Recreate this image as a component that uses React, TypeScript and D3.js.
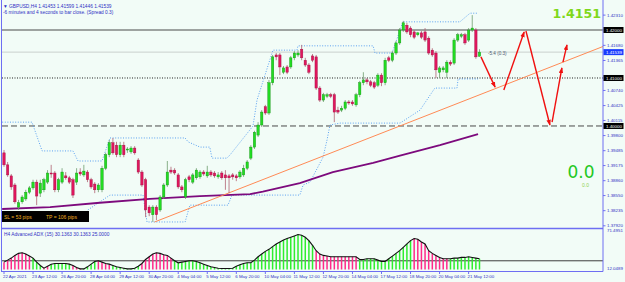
import * as d3 from 'd3';

// H4 GBPUSD candles, [open, high, low, close]
const candles: [number, number, number, number][] = [
  [1.3944, 1.395, 1.3915, 1.3919], [1.3919, 1.3925, 1.3894, 1.3898], [1.3896, 1.39, 1.3867, 1.3873],
  [1.3877, 1.3881, 1.3838, 1.3842], [1.3831, 1.3846, 1.3825, 1.384], [1.3842, 1.3856, 1.3838, 1.3852],
  [1.3848, 1.3867, 1.3844, 1.3862], [1.3862, 1.3875, 1.3858, 1.3871], [1.3871, 1.3888, 1.3867, 1.3883],
  [1.3883, 1.3888, 1.3835, 1.3854], [1.386, 1.3888, 1.3852, 1.3881], [1.3867, 1.3892, 1.3862, 1.3888],
  [1.3883, 1.3908, 1.3879, 1.3902], [1.3902, 1.3919, 1.3892, 1.39], [1.3902, 1.3906, 1.3862, 1.3867],
  [1.3867, 1.3892, 1.3862, 1.3888], [1.3883, 1.3912, 1.3879, 1.3904], [1.3896, 1.3904, 1.3888, 1.3892],
  [1.3892, 1.3896, 1.3879, 1.3883], [1.3888, 1.3892, 1.385, 1.3856], [1.3883, 1.3912, 1.3877, 1.3902],
  [1.3904, 1.3912, 1.3896, 1.39], [1.3898, 1.3919, 1.3894, 1.3906], [1.3904, 1.3908, 1.3883, 1.3888],
  [1.3888, 1.3892, 1.3869, 1.3873], [1.3879, 1.3883, 1.386, 1.3867], [1.3867, 1.3881, 1.3862, 1.3877],
  [1.3867, 1.3917, 1.3862, 1.3912], [1.3912, 1.3944, 1.3908, 1.394], [1.394, 1.3971, 1.3935, 1.3965],
  [1.3965, 1.3975, 1.394, 1.3944], [1.396, 1.3967, 1.3935, 1.394], [1.394, 1.3967, 1.3935, 1.396],
  [1.396, 1.3967, 1.3935, 1.394], [1.395, 1.3956, 1.3944, 1.3952], [1.3946, 1.3958, 1.3942, 1.3954],
  [1.3954, 1.3958, 1.394, 1.3944], [1.3929, 1.3933, 1.39, 1.3904], [1.3904, 1.3908, 1.3873, 1.3877],
  [1.3888, 1.3892, 1.381, 1.3825], [1.3831, 1.3835, 1.3812, 1.3819], [1.3815, 1.3835, 1.38, 1.3831],
  [1.3831, 1.3835, 1.3804, 1.3815], [1.3825, 1.3856, 1.3821, 1.3852], [1.3852, 1.3881, 1.3848, 1.3877],
  [1.3877, 1.3927, 1.3873, 1.3904], [1.3908, 1.3915, 1.39, 1.3904], [1.3908, 1.3912, 1.3898, 1.3902],
  [1.3898, 1.3902, 1.3869, 1.3873], [1.3873, 1.3877, 1.3862, 1.3867], [1.3852, 1.3892, 1.3848, 1.3888],
  [1.3894, 1.3898, 1.3883, 1.3888], [1.3883, 1.3902, 1.3879, 1.3898], [1.3892, 1.3912, 1.3888, 1.3908],
  [1.3894, 1.3908, 1.389, 1.3904], [1.3904, 1.3908, 1.3896, 1.39], [1.3896, 1.3917, 1.3892, 1.3904],
  [1.3904, 1.3908, 1.3894, 1.3898], [1.3902, 1.3906, 1.3892, 1.3896], [1.3894, 1.3904, 1.389, 1.3898],
  [1.3902, 1.3906, 1.3888, 1.3892], [1.3898, 1.3908, 1.3867, 1.3892], [1.3896, 1.39, 1.386, 1.3892],
  [1.3898, 1.3902, 1.3888, 1.3894], [1.3896, 1.39, 1.3885, 1.3892], [1.3894, 1.3908, 1.389, 1.3904],
  [1.3898, 1.3919, 1.3894, 1.3912], [1.3912, 1.3929, 1.3908, 1.3925], [1.3933, 1.396, 1.3929, 1.3956],
  [1.3956, 1.399, 1.3952, 1.3987], [1.3981, 1.4008, 1.3977, 1.4002], [1.4002, 1.4033, 1.3998, 1.4029],
  [1.404, 1.4044, 1.4023, 1.4027], [1.4027, 1.4096, 1.4023, 1.409], [1.409, 1.4148, 1.4085, 1.4144],
  [1.4148, 1.4152, 1.4137, 1.4144], [1.4148, 1.4152, 1.4106, 1.4123], [1.4112, 1.4125, 1.4108, 1.4121],
  [1.4123, 1.4127, 1.4108, 1.4112], [1.4123, 1.4146, 1.4119, 1.4142], [1.4142, 1.4156, 1.4137, 1.4152],
  [1.4148, 1.4158, 1.4144, 1.4152], [1.416, 1.4169, 1.4137, 1.4142], [1.4137, 1.4142, 1.4123, 1.4127],
  [1.4127, 1.4131, 1.4108, 1.4112], [1.4146, 1.415, 1.4133, 1.4137], [1.4144, 1.4148, 1.4075, 1.4079],
  [1.4079, 1.4083, 1.405, 1.4054], [1.4054, 1.4069, 1.405, 1.4065], [1.4062, 1.4069, 1.4058, 1.4065],
  [1.4065, 1.4069, 1.4058, 1.4062], [1.4065, 1.4069, 1.4008, 1.4029], [1.4033, 1.404, 1.4025, 1.4029],
  [1.4033, 1.4042, 1.4029, 1.4037], [1.4037, 1.4054, 1.4033, 1.405], [1.405, 1.4054, 1.4044, 1.4048],
  [1.405, 1.4054, 1.4042, 1.4046], [1.4044, 1.4069, 1.404, 1.4065], [1.4065, 1.4094, 1.406, 1.409],
  [1.409, 1.4112, 1.4085, 1.4096], [1.4096, 1.41, 1.4087, 1.4092], [1.4092, 1.4096, 1.4081, 1.4085],
  [1.409, 1.4094, 1.4077, 1.4081], [1.4085, 1.411, 1.4081, 1.4106], [1.4106, 1.411, 1.4083, 1.409],
  [1.409, 1.4142, 1.4085, 1.4137], [1.4142, 1.4146, 1.4133, 1.4137], [1.4137, 1.4156, 1.4133, 1.4152],
  [1.4152, 1.4177, 1.4148, 1.4173], [1.4173, 1.4204, 1.4169, 1.42], [1.42, 1.4219, 1.4196, 1.4215],
  [1.421, 1.4215, 1.4192, 1.4196], [1.4204, 1.4208, 1.4185, 1.419], [1.4196, 1.42, 1.4181, 1.4185],
  [1.419, 1.4196, 1.4187, 1.4194], [1.4194, 1.4198, 1.4181, 1.4185], [1.4196, 1.4204, 1.4175, 1.4179],
  [1.4183, 1.4187, 1.4148, 1.4152], [1.4158, 1.4162, 1.4144, 1.4148], [1.4152, 1.4156, 1.41, 1.4117],
  [1.4112, 1.4125, 1.41, 1.4121], [1.4117, 1.4125, 1.4112, 1.4121], [1.4112, 1.4137, 1.41, 1.4133],
  [1.4133, 1.4137, 1.4125, 1.4129], [1.4131, 1.4183, 1.4127, 1.4179], [1.4179, 1.4194, 1.4175, 1.419],
  [1.4187, 1.4194, 1.4183, 1.419], [1.419, 1.4194, 1.4169, 1.4173], [1.4179, 1.4204, 1.4175, 1.42],
  [1.42, 1.4231, 1.4196, 1.4204], [1.42, 1.4204, 1.414, 1.4144], [1.41453, 1.41599, 1.41446, 1.41539],
];

// channel bands and moving average, [bar, price]
const upperBand: [number, number][] = [
  [-0.5, 1.4008], [7.7, 1.4008], [10.5, 1.3948], [19, 1.3948], [20.4, 1.3927], [27, 1.3927],
  [29.2, 1.3975], [49.9, 1.3975], [50.7, 1.3967], [54, 1.3956], [56.7, 1.3956], [57.3, 1.3933],
  [61.4, 1.3933], [62.3, 1.394], [68.6, 1.4], [69.7, 1.4054], [74.1, 1.4158], [80.7, 1.4158],
  [81, 1.4167], [101.7, 1.4167], [102.2, 1.4152], [106.9, 1.4152], [109.9, 1.4217], [125.6, 1.4217],
  [128.4, 1.4235], [130.6, 1.4235],
];
const lowerBand: [number, number][] = [
  [23.1, 1.3825], [29.2, 1.3856], [38.3, 1.3856], [39.4, 1.38], [49.9, 1.38], [51.2, 1.3835],
  [61.7, 1.3835], [62.8, 1.3856], [81.5, 1.3856], [82.4, 1.3877], [84.3, 1.3883], [87.9, 1.3935],
  [89, 1.3971], [89.8, 1.4002], [92.6, 1.4006], [109.1, 1.4006], [114.6, 1.4033], [118.7, 1.4079],
  [124.8, 1.4079], [125.1, 1.4098], [130.6, 1.4098],
];
const movingAverage: [number, number][] = [
  [-0.5, 1.3827], [12.7, 1.3831], [26.4, 1.384], [40.2, 1.3848], [54, 1.3854], [67.8, 1.3858],
  [71.3, 1.3863], [81.5, 1.3881], [90.6, 1.3904], [101.7, 1.3923], [109.1, 1.3938], [120.1, 1.396],
  [130.6, 1.3983],
];
const trendAnchors: [number, number][] = [[41.5, 1.38], [129, 1.4059]];
const forecast: [number, number][][] = [
  [[131.4, 1.4144], [135.3, 1.4081]],
  [[137.7, 1.4075], [143.3, 1.4196]],
  [[143.8, 1.4198], [150.4, 1.4002]],
  [[151, 1.4008], [153.7, 1.4121]],
  [[154, 1.4133], [155.1, 1.4169]],
];

const levels = [1.42, 1.41, 1.4];
const bid = 1.41539;
const priceTicks = [
  '1.42310', '1.41995', '1.41680', '1.41365', '1.41050', '1.40740', '1.40425', '1.40115',
  '1.39800', '1.39485', '1.39175', '1.38860', '1.38550', '1.38235', '1.37920',
];

const timeLabels: [number, string][] = [
  [0, '22 Apr 2021'], [8, '23 Apr 12:00'], [16, '26 Apr 20:00'], [24, '28 Apr 04:00'],
  [32, '29 Apr 12:00'], [40, '30 Apr 20:00'], [48, '4 May 04:00'], [56, '5 May 12:00'],
  [64, '6 May 20:00'], [72, '10 May 04:00'], [80, '11 May 12:00'], [88, '12 May 20:00'],
  [96, '14 May 04:00'], [104, '17 May 12:00'], [112, '18 May 20:00'], [120, '20 May 04:00'],
  [128, '21 May 12:00'],
];

const adxValues = [
  23, 26, 29, 33, 36, 37, 35, 32, 29, 23,
  18, 14, 17, 20, 21, 21, 21, 21, 20, 18,
  15, 13, 13, 16, 20, 24, 25, 23, 21, 20,
  18, 16, 15, 14, 13, 13, 14, 17, 21, 27,
  31, 35, 37, 36, 34, 33, 29, 25, 22, 23,
  24, 25, 25, 24, 22, 20, 18, 16, 15, 14,
  13.5, 13.5, 13.5, 14, 17, 19, 21, 22, 22, 26,
  31, 35, 39, 42, 46, 50, 53, 56, 58, 60,
  62, 64, 63, 60, 55, 48, 40, 35, 33, 32,
  31, 31, 31, 31, 31, 31, 31, 31, 27, 27,
  28, 28, 28, 26, 24, 24, 28, 32, 36, 40,
  45, 50, 55, 58, 57, 53, 50, 40, 36, 33,
  30, 28, 28, 28, 29, 29, 30, 30, 31, 30,
  29, 28,
];
// g = rising (+DI side), p = falling
const adxSide = (
  'pppppppp ggg pp gggggg ppp gggg pppp gggggggg ppppppppp ' +
  'ggggggggggggggggggggggggggggggggggggggg pppppppppppp ggggggggggggggg pppppppppp ggggggggg'
).replace(/ /g, '');
const adxLevel = 25;

const header1 = '\u25BC GBPUSD,H4  1.41453 1.41599 1.41446 1.41539';
const header2 = '-6 minutes and 4 seconds to bar close. (Spread 0.3)';
const adxTitle = 'H4 Advanced ADX (15) 30.1363 30.1363 25.0000';

const font = '"Liberation Sans", Arial, sans-serif';
const textBlue = '#2f2fc4';
const frameBlue = '#6e6ef2';

export default function App() {
  const plotRight = 603;
  const mainBottom = 228.5;
  const subBottom = 271.5;

  const x = d3.scaleLinear().domain([0, 131]).range([4, 479.5]);
  const y = d3.scaleLinear().domain([1.3792, 1.42]).range([225.8, 30]);
  const ay = d3.scaleLinear().domain([12.05, 71.5]).range([269.5, 229.5]);

  const path = d3.line<[number, number]>().x((d) => x(d[0])).y((d) => y(d[1]));
  const adxLine = d3.line<number>().x((_, i) => x(i)).y((d) => ay(d));

  const slope = (trendAnchors[1][1] - trendAnchors[0][1]) / (trendAnchors[1][0] - trendAnchors[0][0]);
  const endBar = x.invert(plotRight);
  const trend: [number, number][] = [
    trendAnchors[0],
    [endBar, trendAnchors[0][1] + slope * (endBar - trendAnchors[0][0])],
  ];

  // axis labels hidden behind the level / bid boxes
  const boxed = [...levels, bid].map((p) => y(p));
  const visibleTicks = priceTicks.filter((t) => boxed.every((by) => Math.abs(y(+t) - by) > 5));

  const bodyW = 2.4;
  const levelStyle = [
    { stroke: '#4a4a4a', dash: undefined },
    { stroke: '#222', dash: '1,1.5' },
    { stroke: '#4a4a4a', dash: '6,3' },
  ];

  return (
    <svg
      width={625}
      height={282}
      style={{ position: 'fixed', left: 0, top: 0, background: '#f2fcf7' }}
      fontFamily={font}
    >
      <defs>
        <clipPath id="mainClip">
          <rect x={2} y={0} width={plotRight - 2} height={mainBottom} />
        </clipPath>
        <marker id="redHead" viewBox="0 0 8 6" refX={7} refY={3} markerWidth={6} markerHeight={5}
          markerUnits="userSpaceOnUse" orient="auto">
          <path d="M0,0L8,3L0,6z" fill="#f01010" />
        </marker>
      </defs>

      <rect x={0} y={0} width={625} height={282} fill="#f2fcf7" />

      <g clipPath="url(#mainClip)">
        <line x1={2} x2={plotRight} y1={y(bid)} y2={y(bid)} stroke="#c9d0cd" strokeWidth={1} />
        {levels.map((p, i) => (
          <line key={p} x1={2} x2={plotRight} y1={y(p)} y2={y(p)}
            stroke={levelStyle[i].stroke} strokeWidth={1} strokeDasharray={levelStyle[i].dash} />
        ))}
        <path d={path(upperBand) ?? ''} fill="none" stroke="#5aa0f0" strokeWidth={1} strokeDasharray="1,1.6" />
        <path d={path(lowerBand) ?? ''} fill="none" stroke="#5aa0f0" strokeWidth={1} strokeDasharray="1,1.6" />
        <path d={path(movingAverage) ?? ''} fill="none" stroke="#7d0a7d" strokeWidth={1.8} />
        <path d={path(trend) ?? ''} fill="none" stroke="#ff8a55" strokeWidth={1} />

        {candles.map(([o, h, l, c], i) => {
          const up = c >= o;
          const cx = x(i);
          const top = y(Math.max(o, c));
          const ht = Math.max(1, Math.abs(y(o) - y(c)));
          return (
            <g key={i}>
              <line x1={cx} x2={cx} y1={y(h)} y2={y(l)} stroke={up ? '#6d9c6d' : '#b06272'} strokeWidth={0.8} />
              <rect x={cx - bodyW / 2} y={top} width={bodyW} height={ht}
                fill={up ? '#22dc22' : '#e0165e'} stroke={up ? '#129012' : '#a01040'} strokeWidth={0.4} />
            </g>
          );
        })}

        {forecast.map((seg, i) => (
          <path key={i} d={path(seg) ?? ''} fill="none" stroke="#f01010" strokeWidth={1.4} markerEnd="url(#redHead)" />
        ))}
      </g>

      {/* info text */}
      <text x={3} y={7.5} fontSize={4.8} fill={textBlue}>{header1}</text>
      <text x={3} y={14} fontSize={4.8} fill={textBlue}>{header2}</text>
      <text x={488} y={55} fontSize={4.6} fill="#505a70">-5.4 (0.3)</text>
      <text x={601} y={17.5} fontSize={12.6} fontWeight="bold" textAnchor="end" fill="#7fd81a"
        fontFamily='"DejaVu Sans", sans-serif'>1.4151</text>
      <text x={581} y={178} fontSize={17} textAnchor="middle" fill="#1fc81f"
        fontFamily='"DejaVu Sans", sans-serif'>0.0</text>
      <text x={585.5} y={187} fontSize={5} textAnchor="middle" fill="#8fd14f">0.0</text>

      <rect x={1} y={211} width={88} height={11} fill="#000" />
      <text x={4} y={219} fontSize={5} fill="#f0b020">SL = 53 pips</text>
      <text x={46} y={219} fontSize={5} fill="#f0b020">TP = 106 pips</text>

      {/* ADX sub window */}
      <line x1={2} x2={plotRight} y1={ay(adxLevel)} y2={ay(adxLevel)} stroke="#3c3c3c" strokeWidth={1} />
      {adxValues.map((v, i) => (
        <line key={i} x1={x(i)} x2={x(i)} y1={ay(12.05)} y2={ay(v)}
          stroke={adxSide[i] === 'g' ? '#2fee2f' : '#ff2a8a'} strokeWidth={1.5} />
      ))}
      <path d={adxLine(adxValues) ?? ''} fill="none" stroke="#111" strokeWidth={1.1} />
      <text x={4} y={236} fontSize={4.8} fill={textBlue}>{adxTitle}</text>

      {/* frame */}
      <line x1={1.5} x2={1.5} y1={0} y2={subBottom} stroke={frameBlue} strokeWidth={1} />
      <line x1={plotRight} x2={plotRight} y1={0} y2={subBottom} stroke={frameBlue} strokeWidth={1} />
      <line x1={1} x2={plotRight} y1={mainBottom} y2={mainBottom} stroke={frameBlue} strokeWidth={1.5} />
      <line x1={1} x2={plotRight} y1={subBottom} y2={subBottom} stroke={frameBlue} strokeWidth={1} />

      {/* price axis */}
      {visibleTicks.map((t) => (
        <g key={t}>
          <line x1={plotRight} x2={plotRight + 2.5} y1={y(+t)} y2={y(+t)} stroke={frameBlue} />
          <text x={607} y={y(+t) + 1.6} fontSize={4.4} fill={textBlue}>{t}</text>
        </g>
      ))}
      {levels.map((p) => (
        <g key={p}>
          <rect x={603.5} y={y(p) - 3} width={20} height={6} fill="#000" />
          <text x={606} y={y(p) + 1.6} fontSize={4.4} fill="#fff">{p.toFixed(5)}</text>
        </g>
      ))}
      <rect x={603.5} y={y(bid) - 3} width={20} height={6} fill="#1a3cff" />
      <text x={606} y={y(bid) + 1.6} fontSize={4.4} fill="#fff">{bid.toFixed(5)}</text>

      <text x={607} y={232} fontSize={4.4} fill={textBlue}>71.4951</text>
      <text x={607} y={269.5} fontSize={4.4} fill={textBlue}>12.0489</text>

      {/* time axis */}
      {timeLabels.map(([b, t]) => (
        <g key={t}>
          <line x1={x(b)} x2={x(b)} y1={subBottom} y2={subBottom + 2.5} stroke={frameBlue} />
          <text x={x(b) - 1} y={278} fontSize={4.4} fill={textBlue}>{t}</text>
        </g>
      ))}
    </svg>
  );
}
